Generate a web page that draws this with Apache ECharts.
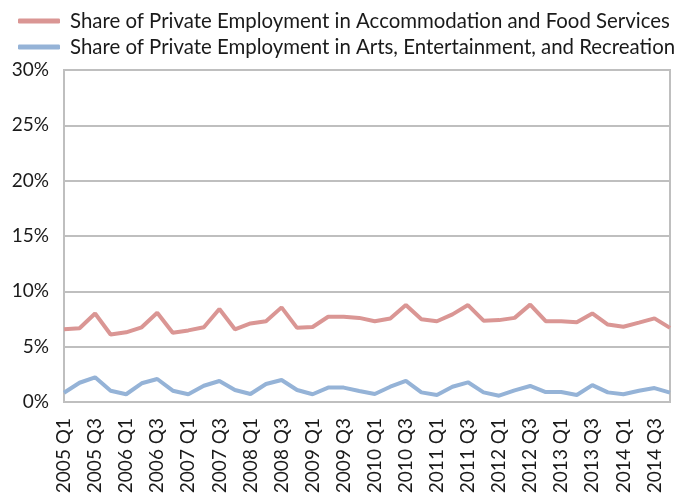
<!DOCTYPE html>
<html>
<head>
<meta charset="utf-8">
<script src="https://cdn.jsdelivr.net/npm/echarts@6/dist/echarts.min.js"></script>
<style>
  html, body { margin: 0; padding: 0; background: #fff; }
  #chart { width: 681px; height: 497px; }
</style>
</head>
<body>
<div id="chart"></div>
<script>
// Quarterly categories, 2005 Q1 .. 2014 Q4
const years = [2005, 2006, 2007, 2008, 2009, 2010, 2011, 2012, 2013, 2014];
const quarters = ['Q1', 'Q2', 'Q3', 'Q4'];
const categories = [];
years.forEach(y => quarters.forEach(q => categories.push(y + ' ' + q)));

// Share of private employment (%)
const accommodationFood = [
  6.57, 6.66, 8.0, 6.1, 6.3, 6.75, 8.07, 6.26, 6.47, 6.75,
  8.4, 6.57, 7.1, 7.3, 8.55, 6.7, 6.78, 7.7, 7.7, 7.6,
  7.3, 7.55, 8.76, 7.47, 7.3, 7.92, 8.76, 7.35, 7.4, 7.6,
  8.8, 7.3, 7.3, 7.2, 8.0, 7.0, 6.8, 7.17, 7.56, 6.7
];
const artsEntertainment = [
  0.84, 1.74, 2.23, 1.02, 0.7, 1.69, 2.08, 1.02, 0.7, 1.47,
  1.9, 1.08, 0.72, 1.63, 1.99, 1.08, 0.7, 1.3, 1.3, 1.0,
  0.72, 1.38, 1.9, 0.87, 0.63, 1.38, 1.78, 0.87, 0.57, 1.05,
  1.45, 0.9, 0.9, 0.63, 1.53, 0.87, 0.7, 1.02, 1.26, 0.84
];

const seriesNames = [
  'Share of Private Employment in Accommodation and Food Services',
  'Share of Private Employment in Arts, Entertainment, and Recreation'
];
const yTicks = { min: 0, max: 30, interval: 5 };

const font = 'Lato, "Open Sans", sans-serif';
const textColor = '#1a1a1a';
const chart = echarts.init(document.getElementById('chart'));
chart.setOption({
  animation: false,
  textStyle: { fontFamily: font },
  legend: {
    orient: 'vertical',
    left: 13,
    top: 6,
    itemWidth: 42,
    itemHeight: 5,
    itemGap: 6,
    icon: 'roundRect',
    textStyle: {
      fontSize: 20.4, lineHeight: 20, color: textColor, fontFamily: font,
      padding: [0, 0, 0, 5]
    },
    data: seriesNames
  },
  grid: {
    left: 64, right: 11, top: 70, bottom: 95,
    show: true, borderColor: '#bfbfbf', borderWidth: 2,
    containLabel: false
  },
  xAxis: {
    type: 'category',
    data: categories,
    boundaryGap: false,
    axisLine: { lineStyle: { color: '#bfbfbf', width: 2 } },
    axisTick: { show: false },
    axisLabel: {
      rotate: 90, interval: 1, fontSize: 19, color: textColor,
      fontFamily: font, margin: 16
    }
  },
  yAxis: {
    type: 'value',
    min: yTicks.min, max: yTicks.max, interval: yTicks.interval,
    axisLine: { show: true, lineStyle: { color: '#bfbfbf', width: 2 } },
    axisTick: { show: false },
    splitLine: { lineStyle: { color: '#bfbfbf', width: 2 } },
    axisLabel: {
      formatter: v => v + '%', fontSize: 19, color: textColor,
      fontFamily: font, margin: 15
    }
  },
  series: [
    {
      name: seriesNames[0], type: 'line', data: accommodationFood,
      symbol: 'none', lineStyle: { color: '#da9694', width: 4 },
      itemStyle: { color: '#da9694' }
    },
    {
      name: seriesNames[1], type: 'line', data: artsEntertainment,
      symbol: 'none', lineStyle: { color: '#95b3d7', width: 4 },
      itemStyle: { color: '#95b3d7' }
    }
  ]
});
</script>
</body>
</html>
